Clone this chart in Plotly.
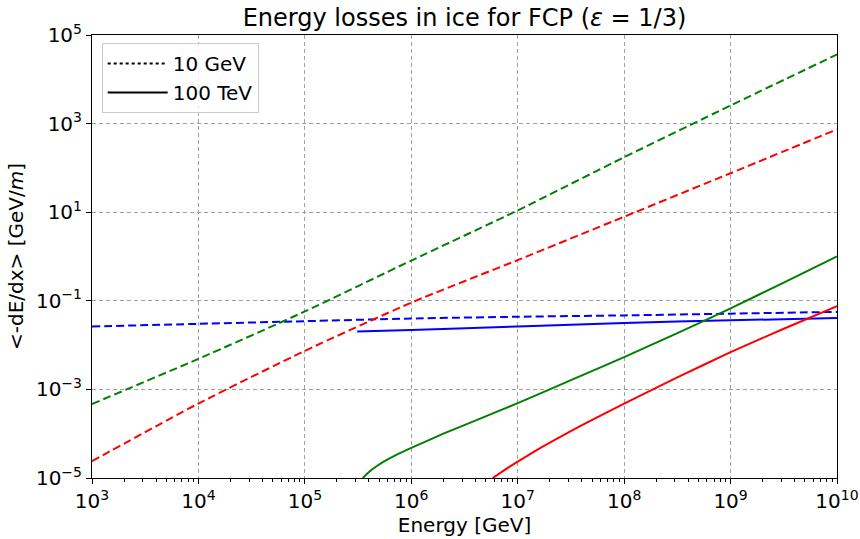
import plotly.graph_objects as go

# ---- data ----
E_dashed = [1e3, 1e4, 1e5, 1e6, 1e7, 1e8, 1e9, 1e10]
green_dashed = [4.68e-4, 4.9e-3, 5.75e-2, 0.81, 11.0, 174, 2570, 3.63e4]
red_dashed = [2.4e-5, 4.8e-4, 7.4e-3, 0.091, 0.83, 7.9, 75.9, 741]
blue_dashed = [0.0263, 0.0302, 0.0347, 0.0398, 0.0437, 0.0468, 0.0513, 0.0562]

E_blue_solid = [3.1e5, 1e6, 1e7, 1e8, 1e9, 1e10]
blue_solid = [0.0204, 0.0219, 0.0263, 0.0316, 0.0363, 0.0407]

E_green_solid = [3.5e5, 3.98e5, 4.68e5, 5.62e5, 7.08e5, 1e6, 2e6, 4.44e6, 1e7, 2e7, 3.16e7,
                 1e8, 3.16e8, 1e9, 3.16e9, 1e10]
green_solid = [1e-5, 1.35e-5, 1.82e-5, 2.4e-5, 3.24e-5, 4.79e-5, 1.0e-4, 2.19e-4, 4.9e-4,
               1.0e-3, 1.62e-3, 5.37e-3, 0.0186, 0.0676, 0.257, 1.0]

E_red_solid = [5.83e6, 7.08e6, 1e7, 1.58e7, 2.51e7, 3.98e7, 1e8, 3.16e8, 1e9, 3.16e9, 1e10]
red_solid = [1e-5, 1.38e-5, 2.34e-5, 4.57e-5, 8.51e-5, 1.55e-4, 4.79e-4, 1.86e-3, 6.92e-3,
             0.0234, 0.0759]

x_tickvals = [1e3, 1e4, 1e5, 1e6, 1e7, 1e8, 1e9, 1e10]
x_ticktext = ["10<sup>3</sup>", "10<sup>4</sup>", "10<sup>5</sup>", "10<sup>6</sup>",
              "10<sup>7</sup>", "10<sup>8</sup>", "10<sup>9</sup>", "10<sup>10</sup>"]
y_tickvals = [1e-5, 1e-3, 1e-1, 1e1, 1e3, 1e5]
y_ticktext = ["10<sup>\u22125</sup>", "10<sup>\u22123</sup>", "10<sup>\u22121</sup>",
              "10<sup>1</sup>", "10<sup>3</sup>", "10<sup>5</sup>"]

legend_labels = ["10 GeV", "100 TeV"]

FONT = "DejaVu Sans, sans-serif"
DASH = "8px,4px"
LW = 2

fig = go.Figure()

def add(x, y, color, dash):
    fig.add_trace(go.Scatter(x=x, y=y, mode="lines", showlegend=False,
                             line=dict(color=color, width=LW, dash=dash,
                                       shape="spline", smoothing=0.6)))

add(E_dashed, blue_dashed, "blue", DASH)
add(E_dashed, green_dashed, "green", DASH)
add(E_dashed, red_dashed, "red", DASH)
add(E_blue_solid, blue_solid, "blue", "solid")
add(E_green_solid, green_solid, "green", "solid")
add(E_red_solid, red_solid, "red", "solid")

# legend-only entries
fig.add_trace(go.Scatter(x=[None], y=[None], mode="lines", name=legend_labels[0],
                         line=dict(color="black", width=2, dash="dot")))
fig.add_trace(go.Scatter(x=[None], y=[None], mode="lines", name=legend_labels[1],
                         line=dict(color="black", width=2, dash="solid")))

minor_x = [m * 10 ** k for k in range(3, 10) for m in range(2, 10)]

fig.update_layout(
    width=860, height=539,
    margin=dict(l=92, r=23, t=35, b=61),
    paper_bgcolor="white", plot_bgcolor="white",
    font=dict(family=FONT, size=20, color="black"),
    title=dict(text="Energy losses in ice for FCP (<i>\u03b5</i> = 1/3)",
               x=(92 + 837) / 2 / 860, xanchor="center", y=1 - 18 / 539, yanchor="middle",
               font=dict(size=24, family=FONT)),
    legend=dict(x=0.013, y=0.982, xanchor="left", yanchor="top",
                bordercolor="#cccccc", borderwidth=1, bgcolor="rgba(255,255,255,0.8)",
                font=dict(size=20, family=FONT), itemwidth=60, tracegroupgap=2),
)

fig.update_xaxes(
    type="log", range=[3, 10], automargin=False,
    tickmode="array", tickvals=x_tickvals, ticktext=x_ticktext,
    ticks="outside", ticklen=5, tickwidth=1, tickcolor="black",
    minor=dict(tickmode="array", tickvals=minor_x, ticks="outside", ticklen=3,
               tickcolor="black", showgrid=False),
    showline=True, linecolor="black", linewidth=1, mirror=True,
    showgrid=True, gridcolor="#a0a0a0", griddash="4px,3px", gridwidth=1,
    zeroline=False,
    title=dict(text="Energy [GeV]", font=dict(size=20, family=FONT), standoff=4),
    tickfont=dict(size=20, family=FONT),
)
fig.update_yaxes(
    type="log", range=[-5, 5], automargin=False,
    tickmode="array", tickvals=y_tickvals, ticktext=y_ticktext,
    ticks="outside", ticklen=5, tickwidth=1, tickcolor="black",
    showline=True, linecolor="black", linewidth=1, mirror=True,
    showgrid=True, gridcolor="#a0a0a0", griddash="4px,3px", gridwidth=1,
    zeroline=False,
    title=dict(text="&lt;-dE/dx&gt; [GeV/<i>m</i>]", font=dict(size=20, family=FONT), standoff=6),
    tickfont=dict(size=20, family=FONT),
)

fig.write_html("out.html")
